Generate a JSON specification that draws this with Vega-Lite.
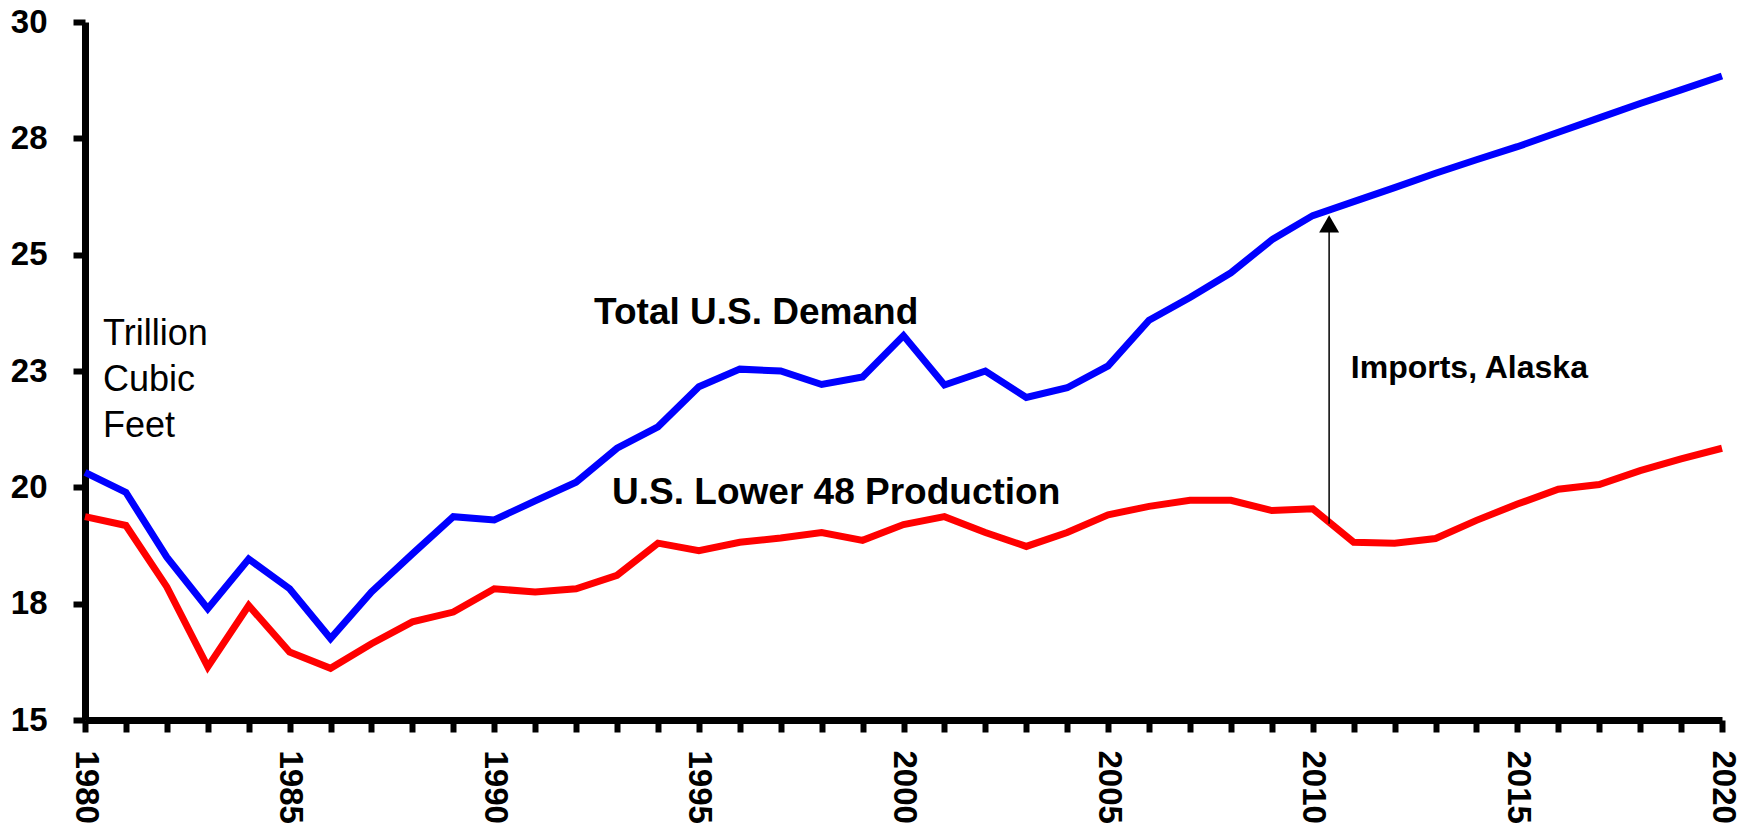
{
  "$schema": "https://vega.github.io/schema/vega-lite/v6.json",
  "width": 1637,
  "height": 698,
  "autosize": {"type": "none"},
  "padding": {"left": 85, "top": 22, "right": 21, "bottom": 113},
  "background": "white",
  "config": {
    "view": {"stroke": null},
    "font": "Liberation Sans",
    "axis": {"grid": false}
  },
  "datasets": {
    "series": [
      {"year": 1980, "series": "Total U.S. Demand", "value": 20.32},
      {"year": 1981, "series": "Total U.S. Demand", "value": 19.89},
      {"year": 1982, "series": "Total U.S. Demand", "value": 18.50},
      {"year": 1983, "series": "Total U.S. Demand", "value": 17.39},
      {"year": 1984, "series": "Total U.S. Demand", "value": 18.46},
      {"year": 1985, "series": "Total U.S. Demand", "value": 17.82},
      {"year": 1986, "series": "Total U.S. Demand", "value": 16.75},
      {"year": 1987, "series": "Total U.S. Demand", "value": 17.75},
      {"year": 1988, "series": "Total U.S. Demand", "value": 18.57},
      {"year": 1989, "series": "Total U.S. Demand", "value": 19.37},
      {"year": 1990, "series": "Total U.S. Demand", "value": 19.30},
      {"year": 1991, "series": "Total U.S. Demand", "value": 19.71},
      {"year": 1992, "series": "Total U.S. Demand", "value": 20.11},
      {"year": 1993, "series": "Total U.S. Demand", "value": 20.84},
      {"year": 1994, "series": "Total U.S. Demand", "value": 21.30},
      {"year": 1995, "series": "Total U.S. Demand", "value": 22.16},
      {"year": 1996, "series": "Total U.S. Demand", "value": 22.54},
      {"year": 1997, "series": "Total U.S. Demand", "value": 22.50},
      {"year": 1998, "series": "Total U.S. Demand", "value": 22.21},
      {"year": 1999, "series": "Total U.S. Demand", "value": 22.37},
      {"year": 2000, "series": "Total U.S. Demand", "value": 23.26},
      {"year": 2001, "series": "Total U.S. Demand", "value": 22.20},
      {"year": 2002, "series": "Total U.S. Demand", "value": 22.50},
      {"year": 2003, "series": "Total U.S. Demand", "value": 21.93},
      {"year": 2004, "series": "Total U.S. Demand", "value": 22.14},
      {"year": 2005, "series": "Total U.S. Demand", "value": 22.61},
      {"year": 2006, "series": "Total U.S. Demand", "value": 23.59},
      {"year": 2007, "series": "Total U.S. Demand", "value": 24.08},
      {"year": 2008, "series": "Total U.S. Demand", "value": 24.61},
      {"year": 2009, "series": "Total U.S. Demand", "value": 25.32},
      {"year": 2010, "series": "Total U.S. Demand", "value": 25.84},
      {"year": 2011, "series": "Total U.S. Demand", "value": 26.14},
      {"year": 2012, "series": "Total U.S. Demand", "value": 26.44},
      {"year": 2013, "series": "Total U.S. Demand", "value": 26.75},
      {"year": 2014, "series": "Total U.S. Demand", "value": 27.04},
      {"year": 2015, "series": "Total U.S. Demand", "value": 27.32},
      {"year": 2016, "series": "Total U.S. Demand", "value": 27.63},
      {"year": 2017, "series": "Total U.S. Demand", "value": 27.94},
      {"year": 2018, "series": "Total U.S. Demand", "value": 28.25},
      {"year": 2019, "series": "Total U.S. Demand", "value": 28.54},
      {"year": 2020, "series": "Total U.S. Demand", "value": 28.84},
      {"year": 1980, "series": "U.S. Lower 48 Production", "value": 19.37},
      {"year": 1981, "series": "U.S. Lower 48 Production", "value": 19.18},
      {"year": 1982, "series": "U.S. Lower 48 Production", "value": 17.86},
      {"year": 1983, "series": "U.S. Lower 48 Production", "value": 16.14},
      {"year": 1984, "series": "U.S. Lower 48 Production", "value": 17.46},
      {"year": 1985, "series": "U.S. Lower 48 Production", "value": 16.46},
      {"year": 1986, "series": "U.S. Lower 48 Production", "value": 16.11},
      {"year": 1987, "series": "U.S. Lower 48 Production", "value": 16.64},
      {"year": 1988, "series": "U.S. Lower 48 Production", "value": 17.11},
      {"year": 1989, "series": "U.S. Lower 48 Production", "value": 17.32},
      {"year": 1990, "series": "U.S. Lower 48 Production", "value": 17.82},
      {"year": 1991, "series": "U.S. Lower 48 Production", "value": 17.75},
      {"year": 1992, "series": "U.S. Lower 48 Production", "value": 17.82},
      {"year": 1993, "series": "U.S. Lower 48 Production", "value": 18.11},
      {"year": 1994, "series": "U.S. Lower 48 Production", "value": 18.80},
      {"year": 1995, "series": "U.S. Lower 48 Production", "value": 18.64},
      {"year": 1996, "series": "U.S. Lower 48 Production", "value": 18.82},
      {"year": 1997, "series": "U.S. Lower 48 Production", "value": 18.91},
      {"year": 1998, "series": "U.S. Lower 48 Production", "value": 19.03},
      {"year": 1999, "series": "U.S. Lower 48 Production", "value": 18.86},
      {"year": 2000, "series": "U.S. Lower 48 Production", "value": 19.20},
      {"year": 2001, "series": "U.S. Lower 48 Production", "value": 19.37},
      {"year": 2002, "series": "U.S. Lower 48 Production", "value": 19.03},
      {"year": 2003, "series": "U.S. Lower 48 Production", "value": 18.73},
      {"year": 2004, "series": "U.S. Lower 48 Production", "value": 19.03},
      {"year": 2005, "series": "U.S. Lower 48 Production", "value": 19.41},
      {"year": 2006, "series": "U.S. Lower 48 Production", "value": 19.59},
      {"year": 2007, "series": "U.S. Lower 48 Production", "value": 19.72},
      {"year": 2008, "series": "U.S. Lower 48 Production", "value": 19.72},
      {"year": 2009, "series": "U.S. Lower 48 Production", "value": 19.50},
      {"year": 2010, "series": "U.S. Lower 48 Production", "value": 19.54},
      {"year": 2011, "series": "U.S. Lower 48 Production", "value": 18.82},
      {"year": 2012, "series": "U.S. Lower 48 Production", "value": 18.80},
      {"year": 2013, "series": "U.S. Lower 48 Production", "value": 18.90},
      {"year": 2014, "series": "U.S. Lower 48 Production", "value": 19.29},
      {"year": 2015, "series": "U.S. Lower 48 Production", "value": 19.64},
      {"year": 2016, "series": "U.S. Lower 48 Production", "value": 19.96},
      {"year": 2017, "series": "U.S. Lower 48 Production", "value": 20.06},
      {"year": 2018, "series": "U.S. Lower 48 Production", "value": 20.36},
      {"year": 2019, "series": "U.S. Lower 48 Production", "value": 20.61},
      {"year": 2020, "series": "U.S. Lower 48 Production", "value": 20.84}
    ],
    "seriesLabels": [
      {"text": "Total U.S. Demand", "year": 1992.44, "value": 23.75},
      {"text": "U.S. Lower 48 Production", "year": 1992.88, "value": 19.88}
    ],
    "units": [
      {"text": "Trillion", "year": 1980.44, "value": 23.30},
      {"text": "Cubic", "year": 1980.44, "value": 22.31},
      {"text": "Feet", "year": 1980.44, "value": 21.32}
    ],
    "arrowLabel": [
      {"text": "Imports, Alaska", "year": 2010.93, "value": 22.57}
    ],
    "arrow": [
      {"year": 2010.4, "from": 19.22, "to": 25.5, "tip": 25.66}
    ]
  },
  "layer": [
    {
      "data": {"name": "series"},
      "mark": {"type": "line", "strokeWidth": 7, "strokeJoin": "miter"},
      "encoding": {
        "x": {
          "field": "year",
          "type": "quantitative",
          "scale": {"domain": [1980, 2020], "nice": false, "zero": false},
          "axis": {
            "title": null,
            "values": [1980,1981,1982,1983,1984,1985,1986,1987,1988,1989,1990,1991,1992,1993,1994,1995,1996,1997,1998,1999,2000,2001,2002,2003,2004,2005,2006,2007,2008,2009,2010,2011,2012,2013,2014,2015,2016,2017,2018,2019,2020],
            "format": "d",
            "labelExpr": "datum.value % 5 === 0 ? datum.label : ''",
            "labelAngle": 90,
            "labelAlign": "left",
            "labelBaseline": "middle",
            "labelFontSize": 33,
            "labelFontWeight": "bold",
            "labelColor": "black",
            "labelPadding": 18,
            "labelOverlap": false,
            "labelFlush": false,
            "labelBound": false,
            "tickSize": 12,
            "tickWidth": 6,
            "tickColor": "black",
            "domainColor": "black",
            "domainWidth": 7,
            "grid": false
          }
        },
        "y": {
          "field": "value",
          "type": "quantitative",
          "scale": {"domain": [15, 30], "nice": false, "zero": false},
          "axis": {
            "title": null,
            "values": [15, 17.5, 20, 22.5, 25, 27.5, 30],
            "format": ".0f",
            "labelFontSize": 33,
            "labelFontWeight": "bold",
            "labelColor": "black",
            "labelPadding": 26,
            "labelOverlap": false,
            "labelFlush": false,
            "labelBound": false,
            "tickSize": 12,
            "tickWidth": 6,
            "tickColor": "black",
            "domainColor": "black",
            "domainWidth": 7,
            "grid": false
          }
        },
        "color": {
          "field": "series",
          "type": "nominal",
          "scale": {"domain": ["Total U.S. Demand", "U.S. Lower 48 Production"], "range": ["#0000FF", "#FF0000"]},
          "legend": null
        }
      }
    },
    {
      "data": {"name": "arrow"},
      "mark": {"type": "rule", "color": "black", "strokeWidth": 1.5},
      "encoding": {
        "x": {"field": "year", "type": "quantitative"},
        "y": {"field": "from", "type": "quantitative"},
        "y2": {"field": "to"}
      }
    },
    {
      "data": {"name": "arrow"},
      "mark": {"type": "point", "shape": "triangle-up", "filled": true, "color": "black", "size": 400, "opacity": 1},
      "encoding": {
        "x": {"field": "year", "type": "quantitative"},
        "y": {"field": "tip", "type": "quantitative"}
      }
    },
    {
      "data": {"name": "seriesLabels"},
      "mark": {"type": "text", "align": "left", "baseline": "middle", "fontSize": 37, "fontWeight": "bold", "color": "black"},
      "encoding": {
        "x": {"field": "year", "type": "quantitative"},
        "y": {"field": "value", "type": "quantitative"},
        "text": {"field": "text"}
      }
    },
    {
      "data": {"name": "units"},
      "mark": {"type": "text", "align": "left", "baseline": "middle", "fontSize": 36, "fontWeight": "normal", "color": "black"},
      "encoding": {
        "x": {"field": "year", "type": "quantitative"},
        "y": {"field": "value", "type": "quantitative"},
        "text": {"field": "text"}
      }
    },
    {
      "data": {"name": "arrowLabel"},
      "mark": {"type": "text", "align": "left", "baseline": "middle", "fontSize": 32, "fontWeight": "bold", "color": "black"},
      "encoding": {
        "x": {"field": "year", "type": "quantitative"},
        "y": {"field": "value", "type": "quantitative"},
        "text": {"field": "text"}
      }
    }
  ]
}
